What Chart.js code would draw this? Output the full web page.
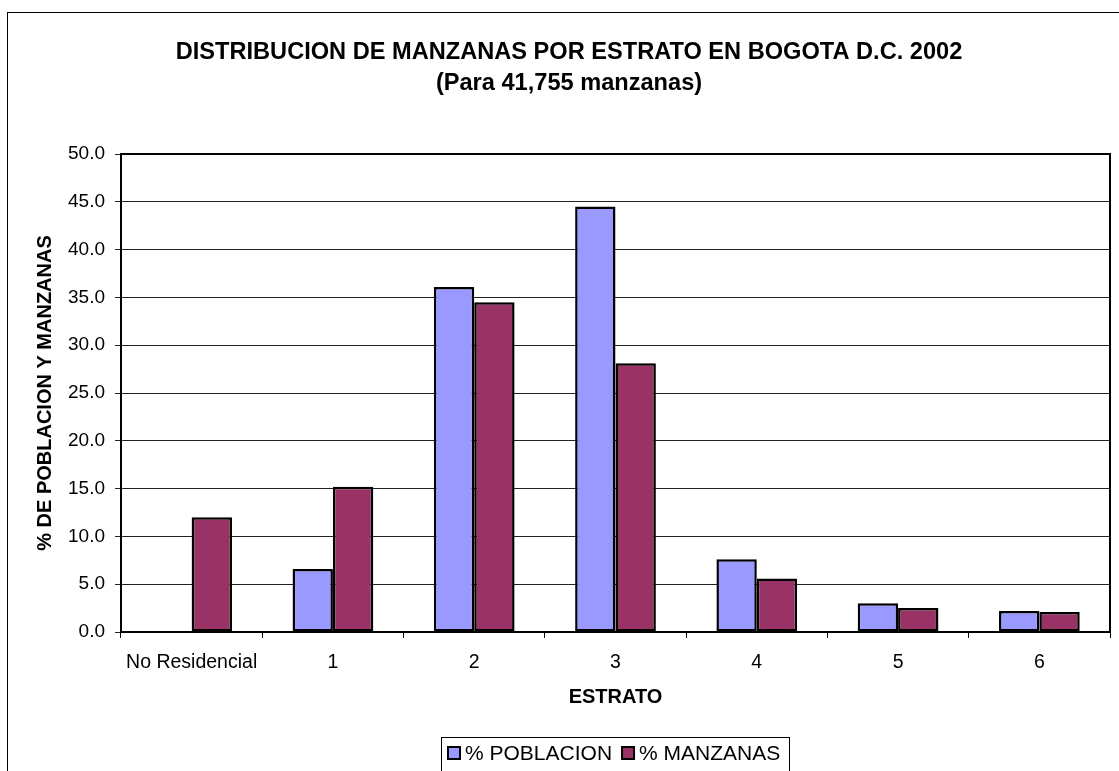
<!DOCTYPE html>
<html>
<head>
<meta charset="utf-8">
<script src="https://cdn.jsdelivr.net/npm/chart.js@4/dist/chart.umd.min.js"></script>
<style>
  html, body { margin: 0; padding: 0; background: #fff; overflow: hidden; width: 1119px; height: 771px; }
  #frame { position: absolute; left: 7px; top: 12px; width: 1200px; height: 900px; border: 1px solid #000; box-sizing: border-box; }
  #c { position: absolute; left: 0; top: 0; }
</style>
</head>
<body>
<div id="frame"></div>
<canvas id="c" width="1119" height="771"></canvas>
<script>
const categories = ['No Residencial', '1', '2', '3', '4', '5', '6'];
const poblacion = [0, 6.6, 36.1, 44.5, 7.6, 3.0, 2.2];
const manzanas = [12.0, 15.2, 34.5, 28.1, 5.6, 2.5, 2.1];
const seriesNames = ['% POBLACION', '% MANZANAS'];
const titleLines = ['DISTRIBUCION DE MANZANAS POR ESTRATO EN BOGOTA D.C. 2002', '(Para 41,755 manzanas)'];
const yAxisTitle = '% DE POBLACION Y MANZANAS';
const xAxisTitle = 'ESTRATO';

const FONT = "'Liberation Sans', Arial, sans-serif";
const COL_POB = '#9999FF';
const COL_MAN = '#993366';

const plotFrame = {
  id: 'plotFrame',
  afterDatasetsDraw(chart) {
    const {ctx, chartArea: a} = chart;
    ctx.save();
    ctx.strokeStyle = '#000';
    ctx.lineWidth = 2;
    ctx.beginPath();
    ctx.moveTo(a.left, a.top);
    ctx.lineTo(a.right, a.top);
    ctx.lineTo(a.right, a.bottom);
    ctx.stroke();
    ctx.restore();
  }
};

const boxLegend = {
  id: 'boxLegend',
  afterDraw(chart) {
    const ctx = chart.ctx;
    ctx.save();
    ctx.font = '21px ' + FONT;
    ctx.textBaseline = 'middle';
    ctx.textAlign = 'left';
    const marker = 12, gapMT = 5, gapItems = 10, padL = 7, padR = 9;
    const items = chart.data.datasets.map(ds => ({label: ds.label, color: ds.backgroundColor, w: ctx.measureText(ds.label).width}));
    let total = padL + padR;
    items.forEach((it, i) => { total += marker + gapMT + it.w + (i > 0 ? gapItems : 0); });
    const cx = 615.5, top = 737, bottom = 771, cy = 753;
    let x = Math.round(cx - total / 2);
    ctx.lineWidth = 1;
    ctx.strokeStyle = '#000';
    ctx.strokeRect(x + 0.5, top + 0.5, Math.round(total), bottom - top + 2);
    x += padL;
    items.forEach((it, i) => {
      if (i > 0) x += gapItems;
      ctx.fillStyle = it.color;
      ctx.fillRect(x, cy - marker / 2, marker, marker);
      ctx.lineWidth = 2;
      ctx.strokeRect(x, cy - marker / 2, marker, marker);
      x += marker + gapMT;
      ctx.fillStyle = '#000';
      ctx.fillText(it.label, x, cy + 1);
      x += it.w;
    });
    ctx.restore();
  }
};

new Chart(document.getElementById('c'), {
  type: 'bar',
  data: {
    labels: categories,
    datasets: [
      { label: seriesNames[0], data: poblacion, backgroundColor: COL_POB, borderColor: '#000', borderWidth: 2.5, borderSkipped: false },
      { label: seriesNames[1], data: manzanas, backgroundColor: COL_MAN, borderColor: '#000', borderWidth: 2.5, borderSkipped: false }
    ]
  },
  options: {
    responsive: false,
    animation: false,
    devicePixelRatio: 1,
    layout: { padding: { left: 28, right: 9, top: 37, bottom: 0 } },
    datasets: { bar: { categoryPercentage: 2 / 3.5, barPercentage: 1 } },
    plugins: {
      legend: { display: false },
      tooltip: { enabled: false },
      title: {
        display: true,
        text: titleLines,
        color: '#000',
        font: { family: FONT, size: 23.6, weight: 'bold', lineHeight: 1.32 },
        padding: { top: 0, bottom: 54.7 }
      }
    },
    scales: {
      x: {
        afterFit(scale) { scale.height = 139; },
        grid: { offset: true, drawOnChartArea: false, drawTicks: true, tickLength: 6, color: '#000', lineWidth: 1 },
        border: { display: true, color: '#000', width: 2 },
        ticks: { color: '#000', font: { family: FONT, size: 19.5 }, padding: 13, maxRotation: 0, autoSkip: false },
        title: { display: true, text: xAxisTitle, color: '#000', font: { family: FONT, size: 20, weight: 'bold' }, padding: { top: 0, bottom: 62 } }
      },
      y: {
        min: 0, max: 50,
        afterFit(scale) { scale.width = 93; },
        grid: { color: '#222', lineWidth: 1, drawTicks: true, tickLength: 6 },
        border: { display: true, color: '#000', width: 2 },
        ticks: { stepSize: 5, color: '#000', font: { family: FONT, size: 19 }, padding: 10, callback: v => Number(v).toFixed(1) },
        title: { display: true, text: yAxisTitle, color: '#000', font: { family: FONT, size: 20, weight: 'bold' }, padding: { top: 5, bottom: 0 } }
      }
    }
  },
  plugins: [plotFrame, boxLegend]
});
</script>
</body>
</html>
